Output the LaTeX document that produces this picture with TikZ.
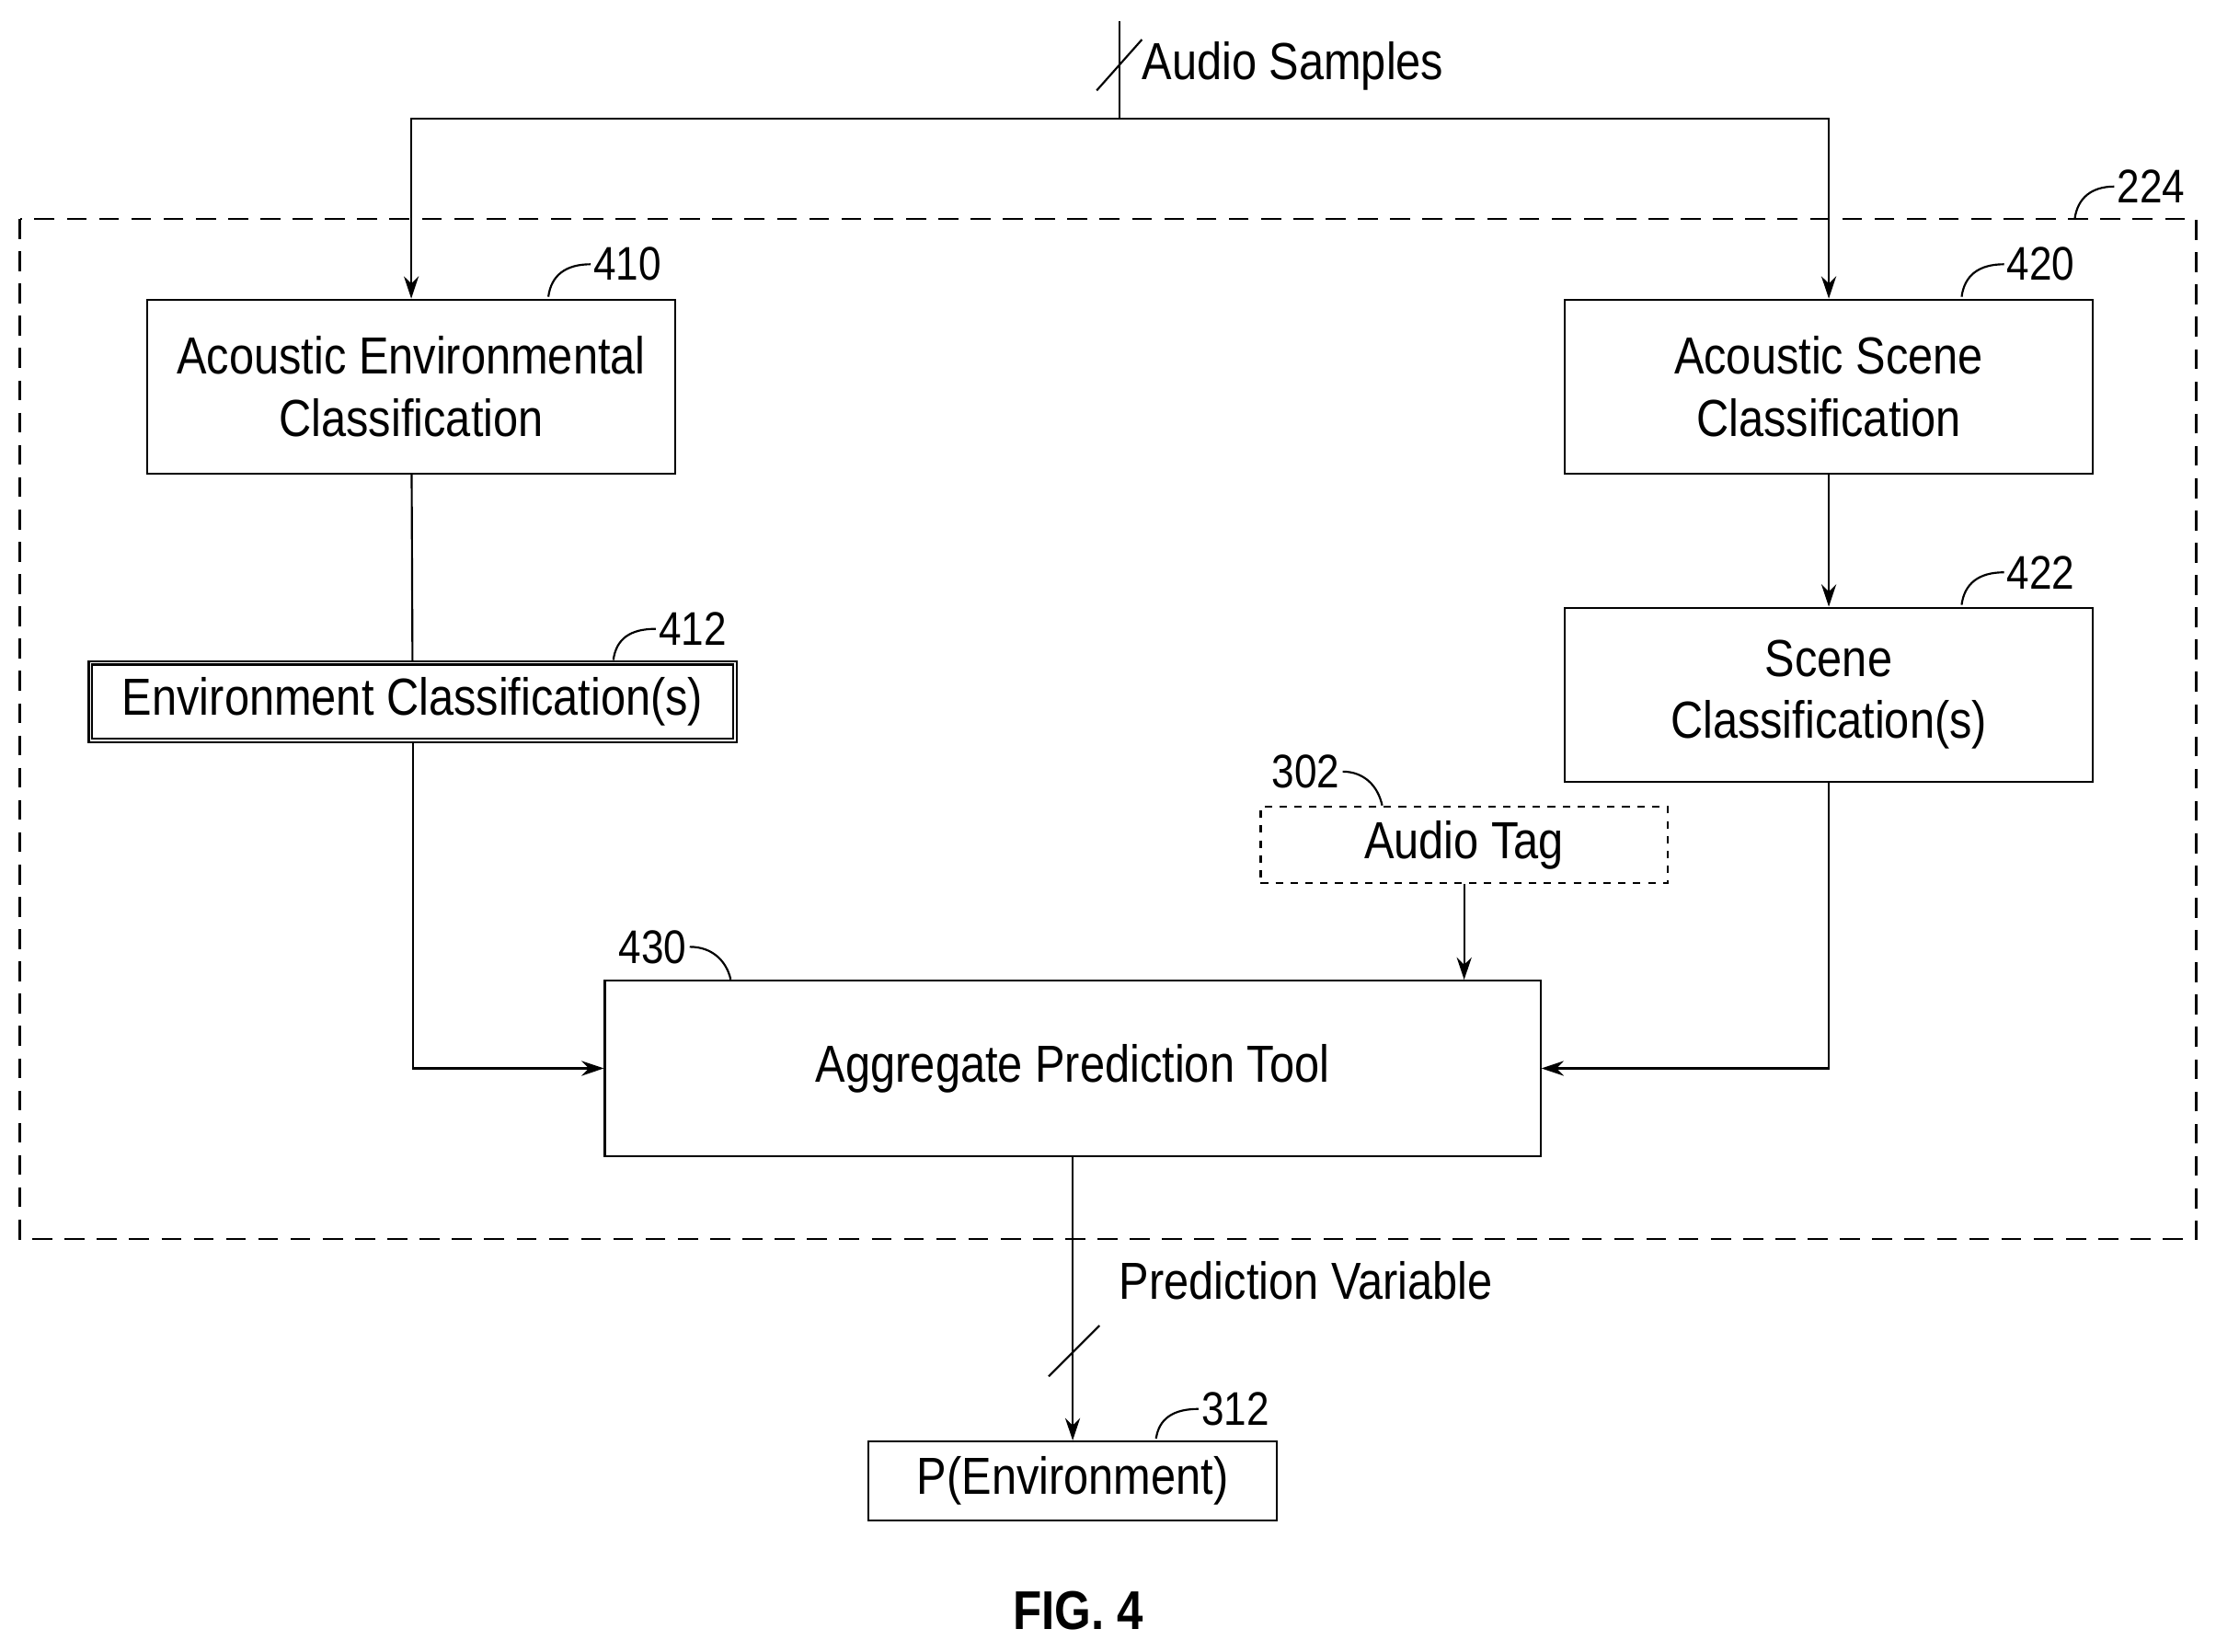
\documentclass[tikz,border=0pt]{standalone}
\usepackage{fontspec}
\setmainfont{Liberation Sans}[FakeStretch=0.86]
\usetikzlibrary{positioning, arrows.meta}

\begin{document}
\begin{tikzpicture}[x=0.02cm, y=-0.02cm,
	box/.style={draw, thick, inner sep=0, align=center, font=\fontsize{21}{25}\selectfont},
	lbl/.style={font=\fontsize{19}{22}\selectfont, inner sep=1pt},
	arr/.style={-{Stealth[length=9pt, width=6pt]}, thick}]
		\useasboundingbox (0,0) rectangle (1568,1169);
		\draw[thick, dashed, dash pattern=on 8pt off 5pt] (14,155) rectangle (1554,877);
		\node[box, minimum width=374*0.02cm, minimum height=123*0.02cm] (aec) at (291,273.5) {Acoustic Environmental\\Classification};
		\node[box, minimum width=374*0.02cm, minimum height=123*0.02cm] (asc) at (1294,273.5) {Acoustic Scene\\Classification};
		\node[box, minimum width=374*0.02cm, minimum height=123*0.02cm] (sc) at (1294,491.5) {Scene\\Classification(s)};
		\node[box, double, minimum width=456*0.02cm, minimum height=55*0.02cm] (ec) at (292,496.5) {Environment Classification(s)};
		\node[box, dashed, minimum width=288*0.02cm, minimum height=54*0.02cm] (tag) at (1036,598) {Audio Tag};
		\node[box, minimum width=662*0.02cm, minimum height=124*0.02cm] (apt) at (759,756) {Aggregate Prediction Tool};
		\node[box, minimum width=289*0.02cm, minimum height=56*0.02cm] (penv) at (759,1048) {P(Environment)};
		\coordinate (in) at (792,15);
		\coordinate (split) at (792,84);
		% input bus
		\draw[thick] (in) -- (split);
		\draw[thick] (776,64) -- (808,28);
		\node[lbl, anchor=west, font=\fontsize{21}{25}\selectfont] at (806,47) {Audio Samples};
		\draw[arr] (split) -| (aec.north);
		\draw[arr] (split) -| (asc.north);
		\draw[arr] (asc) -- (sc);
		\draw[thick] (aec) -- (ec);
		\draw[arr] (ec.south) |- (apt.west);
		\draw[arr] (sc.south) |- (apt.east);
		\draw[arr] (tag.south) -- (tag.south |- apt.north);
		\draw[arr] (apt) -- (penv);
		\draw[thick] (742,974) -- (778,938);
		\node[lbl, anchor=west, font=\fontsize{21}{25}\selectfont] at (790,906) {Prediction Variable};
		% reference numerals
		\draw[thick] (1468,155) .. controls (1470,140) and (1480,132) .. (1496,132);
		\node[lbl, anchor=west] at (1496,132) {224};
		\draw[thick] (388,210) .. controls (390,195) and (400,187) .. (418,187);
		\node[lbl, anchor=west] at (418,187) {410};
		\draw[thick] (1388,210) .. controls (1390,195) and (1400,187) .. (1418,187);
		\node[lbl, anchor=west] at (1418,187) {420};
		\draw[thick] (1388,428) .. controls (1390,413) and (1400,405) .. (1418,405);
		\node[lbl, anchor=west] at (1418,405) {422};
		\draw[thick] (434,467) .. controls (436,452) and (446,445) .. (464,445);
		\node[lbl, anchor=west] at (464,445) {412};
		\draw[thick] (818,1018) .. controls (820,1004) and (830,997) .. (848,997);
		\node[lbl, anchor=west] at (848,997) {312};
		\draw[thick] (517,693) .. controls (514,680) and (504,670) .. (488,670);
		\node[lbl, anchor=east] at (488,670) {430};
		\draw[thick] (978,570) .. controls (975,556) and (965,546) .. (950,546);
		\node[lbl, anchor=east] at (950,546) {302};
		\node[font=\bfseries\fontsize{22}{26}\selectfont] at (763,1140) {FIG. 4};
	\end{tikzpicture}
\end{document}
